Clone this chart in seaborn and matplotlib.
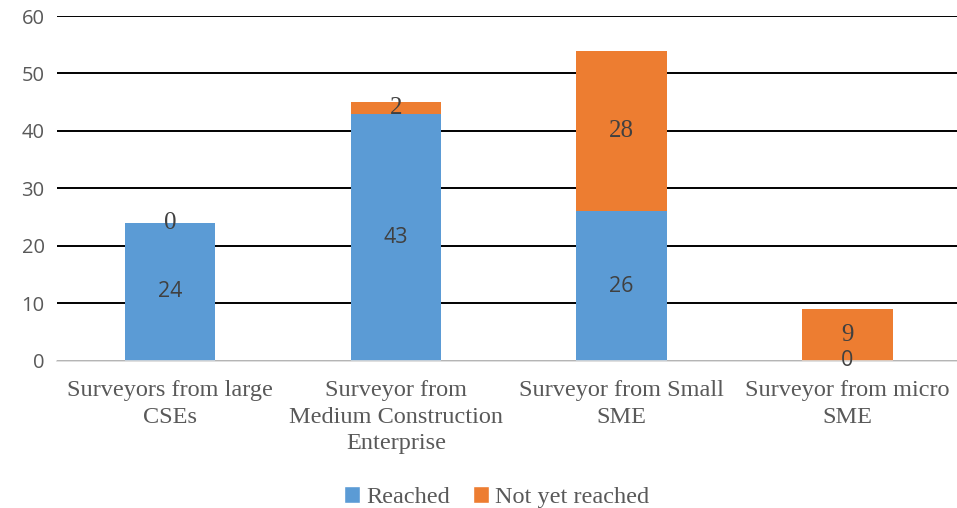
import matplotlib.pyplot as plt
import pandas as pd
import seaborn as sns
from matplotlib.patches import Patch

categories = [
    "Surveyors from large\nCSEs",
    "Surveyor from\nMedium Construction\nEnterprise",
    "Surveyor from Small\nSME",
    "Surveyor from micro\nSME",
]
reached = [24, 43, 26, 0]
not_yet_reached = [0, 2, 28, 9]
y_ticks = [0, 10, 20, 30, 40, 50, 60]

BLUE = "#5B9BD5"
ORANGE = "#ED7D31"
GREY_TEXT = "#595959"
SERIF = ["Liberation Serif", "DejaVu Serif"]
SANS = ["Open Sans", "DejaVu Sans"]

sns.set_theme(style="white")
plt.rcParams["font.family"] = SANS

df = pd.DataFrame({
    "category": categories,
    "reached": reached,
    "not_yet": not_yet_reached,
})
df["total"] = df["reached"] + df["not_yet"]

fig = plt.figure(figsize=(9.57, 5.08), dpi=100)
ax = fig.add_axes([0.0596, 0.2894, 0.944, 0.6791])

# stacked look: total bar in orange, reached bar drawn over it in blue
sns.barplot(data=df, x="category", y="total", color=ORANGE, width=0.4,
            saturation=1, linewidth=0, ax=ax, zorder=3)
sns.barplot(data=df, x="category", y="reached", color=BLUE, width=0.4,
            saturation=1, linewidth=0, ax=ax, zorder=3)

ax.set_ylim(0, 60)
ax.set_yticks(y_ticks)
ax.set_xlim(-0.5, len(categories) - 0.5)
ax.yaxis.grid(True, color="black", linewidth=1.4, zorder=0)
ax.xaxis.grid(False)
for side in ["top", "right", "left"]:
    ax.spines[side].set_visible(False)
ax.spines["bottom"].set_color("#D9D9D9")
ax.spines["bottom"].set_linewidth(1.2)
ax.spines["bottom"].set_zorder(4)

ax.set_xlabel("")
ax.set_ylabel("")
ax.tick_params(axis="y", length=0, pad=9, labelsize=14.5, labelcolor=GREY_TEXT)
ax.tick_params(axis="x", length=0, pad=14)
ax.set_xticks(range(len(categories)))
ax.set_xticklabels(categories, fontsize=17.5, color=GREY_TEXT, family=SERIF,
                   linespacing=1.33)

# data labels, centred in each segment
for i, row in df.iterrows():
    ax.text(i, row["reached"] / 2, str(row["reached"]), ha="center", va="center",
            fontsize=15.5, color="#404040", family=SANS, zorder=5)
    ax.text(i, row["reached"] + row["not_yet"] / 2, str(row["not_yet"]),
            ha="center", va="center", fontsize=18, color="#404040",
            family=SERIF, zorder=5)

handles = [Patch(facecolor=BLUE, label="Reached"),
           Patch(facecolor=ORANGE, label="Not yet reached")]
fig.legend(handles=handles, loc="lower center", bbox_to_anchor=(0.519, -0.043),
           ncol=2, frameon=False, handlelength=0.65, handleheight=0.65,
           handletextpad=0.25, columnspacing=0.95,
           prop={"family": SERIF, "size": 17.5}, labelcolor=GREY_TEXT)

fig.savefig("out.png", dpi=100)
